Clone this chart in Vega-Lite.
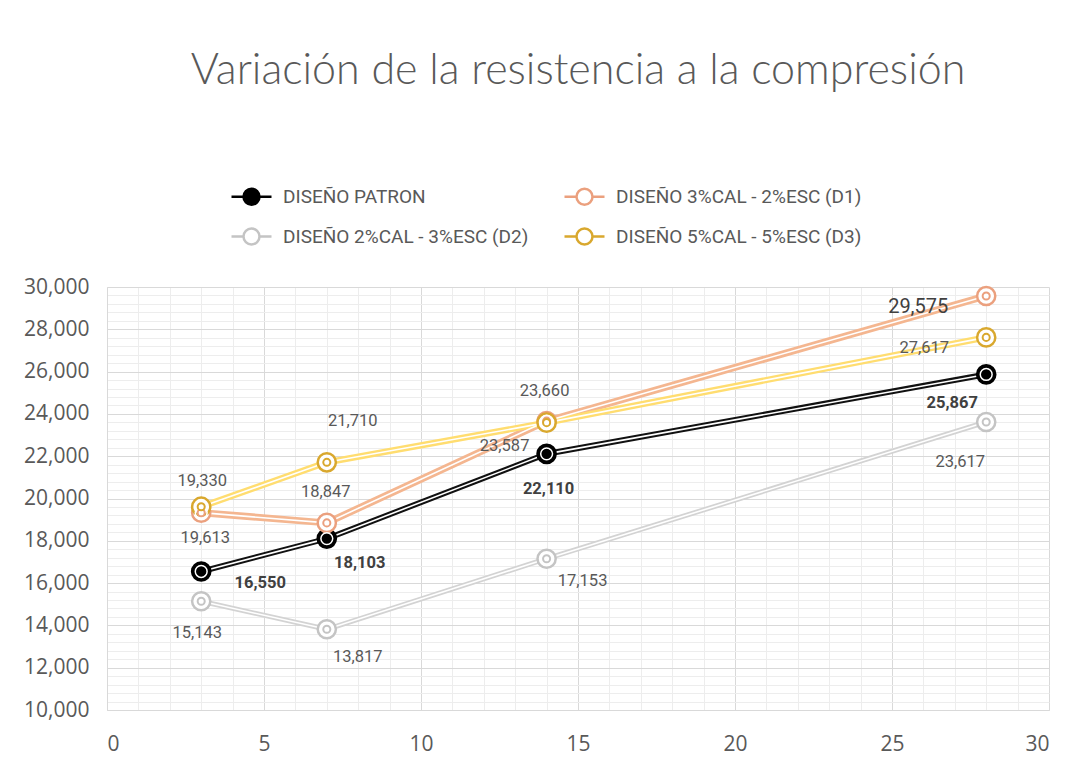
{
  "$schema": "https://vega.github.io/schema/vega-lite/v6.json",
  "width": 942,
  "height": 423,
  "autosize": {"type": "none"},
  "padding": {"left": 107, "top": 287, "right": 27, "bottom": 53},
  "background": "#ffffff",
  "title": {
    "text": "Variación de la resistencia a la compresión",
    "anchor": "middle",
    "font": "Lato",
    "fontWeight": 300,
    "fontSize": 43,
    "color": "#595959",
    "offset": 82
  },
  "data": {
    "values": [
      {"serie": "DISEÑO PATRON", "dias": 3, "v": 16550},
      {"serie": "DISEÑO PATRON", "dias": 7, "v": 18103},
      {"serie": "DISEÑO PATRON", "dias": 14, "v": 22110},
      {"serie": "DISEÑO PATRON", "dias": 28, "v": 25867},
      {"serie": "DISEÑO 3%CAL - 2%ESC (D1)", "dias": 3, "v": 19330},
      {"serie": "DISEÑO 3%CAL - 2%ESC (D1)", "dias": 7, "v": 18847},
      {"serie": "DISEÑO 3%CAL - 2%ESC (D1)", "dias": 14, "v": 23660},
      {"serie": "DISEÑO 3%CAL - 2%ESC (D1)", "dias": 28, "v": 29575},
      {"serie": "DISEÑO 2%CAL - 3%ESC (D2)", "dias": 3, "v": 15143},
      {"serie": "DISEÑO 2%CAL - 3%ESC (D2)", "dias": 7, "v": 13817},
      {"serie": "DISEÑO 2%CAL - 3%ESC (D2)", "dias": 14, "v": 17153},
      {"serie": "DISEÑO 2%CAL - 3%ESC (D2)", "dias": 28, "v": 23617},
      {"serie": "DISEÑO 5%CAL - 5%ESC (D3)", "dias": 3, "v": 19613},
      {"serie": "DISEÑO 5%CAL - 5%ESC (D3)", "dias": 7, "v": 21710},
      {"serie": "DISEÑO 5%CAL - 5%ESC (D3)", "dias": 14, "v": 23587},
      {"serie": "DISEÑO 5%CAL - 5%ESC (D3)", "dias": 28, "v": 27617}
    ]
  },
  "encoding": {
    "x": {"field": "dias", "type": "quantitative", "scale": {"domain": [0, 30], "nice": false, "zero": false},
      "axis": {
        "values": [0,1,2,3,4,5,6,7,8,9,10,11,12,13,14,15,16,17,18,19,20,21,22,23,24,25,26,27,28,29,30],
        "labelExpr": "datum.value % 5 === 0 ? format(datum.value, 'd') : ''",
        "grid": true,
        "gridColor": {"condition": {"test": "datum.value % 5 === 0", "value": "#d9d9d9"}, "value": "#ededed"},
        "domain": true, "domainColor": "#d9d9d9", "ticks": false, "labelPadding": 23,
        "labelFont": "Open Sans", "labelFontSize": 21, "labelColor": "#595959", "title": null}},
    "y": {"field": "v", "type": "quantitative", "scale": {"domain": [10000, 30000], "nice": false, "zero": false},
      "axis": {
        "values": [10000,10400,10800,11200,11600,12000,12400,12800,13200,13600,14000,14400,14800,15200,15600,16000,16400,16800,17200,17600,18000,18400,18800,19200,19600,20000,20400,20800,21200,21600,22000,22400,22800,23200,23600,24000,24400,24800,25200,25600,26000,26400,26800,27200,27600,28000,28400,28800,29200,29600,30000],
        "labelExpr": "datum.value % 2000 === 0 ? format(datum.value, ',') : ''",
        "grid": true,
        "gridColor": {"condition": {"test": "datum.value % 2000 === 0", "value": "#d9d9d9"}, "value": "#ededed"},
        "domain": true, "domainColor": "#d9d9d9", "ticks": false, "labelPadding": 18,
        "labelFont": "Open Sans", "labelFontSize": 21, "labelColor": "#595959", "title": null}}
  },
  "layer": [
    {
      "mark": {"type": "line", "strokeCap": "round", "strokeJoin": "round"},
      "encoding": {
        "stroke": {"field": "serie", "type": "nominal", "legend": null,
          "scale": {"domain": ["DISEÑO 5%CAL - 5%ESC (D3)", "DISEÑO 2%CAL - 3%ESC (D2)", "DISEÑO 3%CAL - 2%ESC (D1)", "DISEÑO PATRON"], "range": ["#FFDD70", "#D3D3D3", "#F4B690", "#111111"]}},
        "strokeWidth": {"field": "serie", "type": "nominal", "legend": null,
          "scale": {"domain": ["DISEÑO 2%CAL - 3%ESC (D2)", "DISEÑO PATRON", "DISEÑO 5%CAL - 5%ESC (D3)", "DISEÑO 3%CAL - 2%ESC (D1)"], "range": [5, 7, 5, 5]}},
        "detail": {"field": "serie"}
      }
    },
    {
      "mark": {"type": "line", "stroke": "#ffffff", "strokeWidth": 1.6},
      "encoding": {"detail": {"field": "serie"}}
    },
    {
      "mark": {"type": "point", "shape": "circle", "size": 330, "strokeWidth": 2.5, "opacity": 1, "filled": false},
      "encoding": {
        "color": {"field": "serie", "type": "nominal", "title": null,
          "scale": {"domain": ["DISEÑO PATRON", "DISEÑO 3%CAL - 2%ESC (D1)", "DISEÑO 2%CAL - 3%ESC (D2)", "DISEÑO 5%CAL - 5%ESC (D3)"], "range": ["#000000", "#EBA07E", "#C4C4C4", "#D9A82E"]}},
        "fill": {"field": "serie", "type": "nominal", "title": null,
          "scale": {"domain": ["DISEÑO PATRON", "DISEÑO 3%CAL - 2%ESC (D1)", "DISEÑO 2%CAL - 3%ESC (D2)", "DISEÑO 5%CAL - 5%ESC (D3)"], "range": ["#000000", "#ffffff", "#ffffff", "#ffffff"]}}
      }
    },
    {
      "mark": {"type": "point", "shape": "circle", "size": 140, "filled": false, "stroke": "#ffffff", "strokeWidth": 1.5, "opacity": 1}
    },
    {
      "mark": {"type": "point", "shape": "circle", "size": 50, "strokeWidth": 2, "opacity": 1, "filled": false},
      "encoding": {
        "color": {"field": "serie", "type": "nominal", "title": null},
        "fill": {"field": "serie", "type": "nominal", "title": null}
      }
    },
    {"transform": [{"filter": "datum.serie === 'DISEÑO PATRON' && datum.dias === 3"}], "mark": {"type": "text", "dx": 59, "dy": 12, "fontWeight": "bold", "color": "#404040"}, "encoding": {"text": {"field": "v", "format": ","}}},
    {"transform": [{"filter": "datum.serie === 'DISEÑO PATRON' && datum.dias === 7"}], "mark": {"type": "text", "dx": 33, "dy": 24, "fontWeight": "bold", "color": "#404040"}, "encoding": {"text": {"field": "v", "format": ","}}},
    {"transform": [{"filter": "datum.serie === 'DISEÑO PATRON' && datum.dias === 14"}], "mark": {"type": "text", "dx": 2, "dy": 35, "fontWeight": "bold", "color": "#404040"}, "encoding": {"text": {"field": "v", "format": ","}}},
    {"transform": [{"filter": "datum.serie === 'DISEÑO PATRON' && datum.dias === 28"}], "mark": {"type": "text", "dx": -34, "dy": 29, "fontWeight": "bold", "color": "#404040"}, "encoding": {"text": {"field": "v", "format": ","}}},
    {"transform": [{"filter": "datum.serie === 'DISEÑO 3%CAL - 2%ESC (D1)' && datum.dias === 3"}], "mark": {"type": "text", "dx": 1, "dy": -32}, "encoding": {"text": {"field": "v", "format": ","}}},
    {"transform": [{"filter": "datum.serie === 'DISEÑO 3%CAL - 2%ESC (D1)' && datum.dias === 7"}], "mark": {"type": "text", "dx": -1, "dy": -31}, "encoding": {"text": {"field": "v", "format": ","}}},
    {"transform": [{"filter": "datum.serie === 'DISEÑO 3%CAL - 2%ESC (D1)' && datum.dias === 14"}], "mark": {"type": "text", "dx": -2, "dy": -30}, "encoding": {"text": {"field": "v", "format": ","}}},
    {"transform": [{"filter": "datum.serie === 'DISEÑO 3%CAL - 2%ESC (D1)' && datum.dias === 28"}], "mark": {"type": "text", "dx": -68, "dy": 11, "fontSize": 20, "color": "#404040"}, "encoding": {"text": {"field": "v", "format": ","}}},
    {"transform": [{"filter": "datum.serie === 'DISEÑO 2%CAL - 3%ESC (D2)' && datum.dias === 3"}], "mark": {"type": "text", "dx": -4, "dy": 32}, "encoding": {"text": {"field": "v", "format": ","}}},
    {"transform": [{"filter": "datum.serie === 'DISEÑO 2%CAL - 3%ESC (D2)' && datum.dias === 7"}], "mark": {"type": "text", "dx": 31, "dy": 28}, "encoding": {"text": {"field": "v", "format": ","}}},
    {"transform": [{"filter": "datum.serie === 'DISEÑO 2%CAL - 3%ESC (D2)' && datum.dias === 14"}], "mark": {"type": "text", "dx": 36, "dy": 22}, "encoding": {"text": {"field": "v", "format": ","}}},
    {"transform": [{"filter": "datum.serie === 'DISEÑO 2%CAL - 3%ESC (D2)' && datum.dias === 28"}], "mark": {"type": "text", "dx": -26, "dy": 40}, "encoding": {"text": {"field": "v", "format": ","}}},
    {"transform": [{"filter": "datum.serie === 'DISEÑO 5%CAL - 5%ESC (D3)' && datum.dias === 3"}], "mark": {"type": "text", "dx": 4, "dy": 31}, "encoding": {"text": {"field": "v", "format": ","}}},
    {"transform": [{"filter": "datum.serie === 'DISEÑO 5%CAL - 5%ESC (D3)' && datum.dias === 7"}], "mark": {"type": "text", "dx": 26, "dy": -41}, "encoding": {"text": {"field": "v", "format": ","}}},
    {"transform": [{"filter": "datum.serie === 'DISEÑO 5%CAL - 5%ESC (D3)' && datum.dias === 14"}], "mark": {"type": "text", "dx": -42, "dy": 23}, "encoding": {"text": {"field": "v", "format": ","}}},
    {"transform": [{"filter": "datum.serie === 'DISEÑO 5%CAL - 5%ESC (D3)' && datum.dias === 28"}], "mark": {"type": "text", "dx": -62, "dy": 11}, "encoding": {"text": {"field": "v", "format": ","}}}
  ],
  "config": {
    "view": {"stroke": null},
    "text": {"font": "Roboto", "fontSize": 16.5, "color": "#595959", "align": "center", "baseline": "middle"},
    "legend": {
      "orient": "none", "legendX": 123, "legendY": -112, "columns": 2, "direction": "horizontal",
      "columnPadding": 30, "rowPadding": 5,
      "symbolType": "M-1,0L-0.4,0M0.4,0L1,0M-0.4,0A0.4,0.4,0,1,1,0.4,0A0.4,0.4,0,1,1,-0.4,0Z",
      "symbolSize": 1600, "symbolStrokeWidth": 2.5,
      "labelFont": "Roboto", "labelFontSize": 19, "labelColor": "#595959", "labelOffset": 10, "labelLimit": 400
    }
  }
}
